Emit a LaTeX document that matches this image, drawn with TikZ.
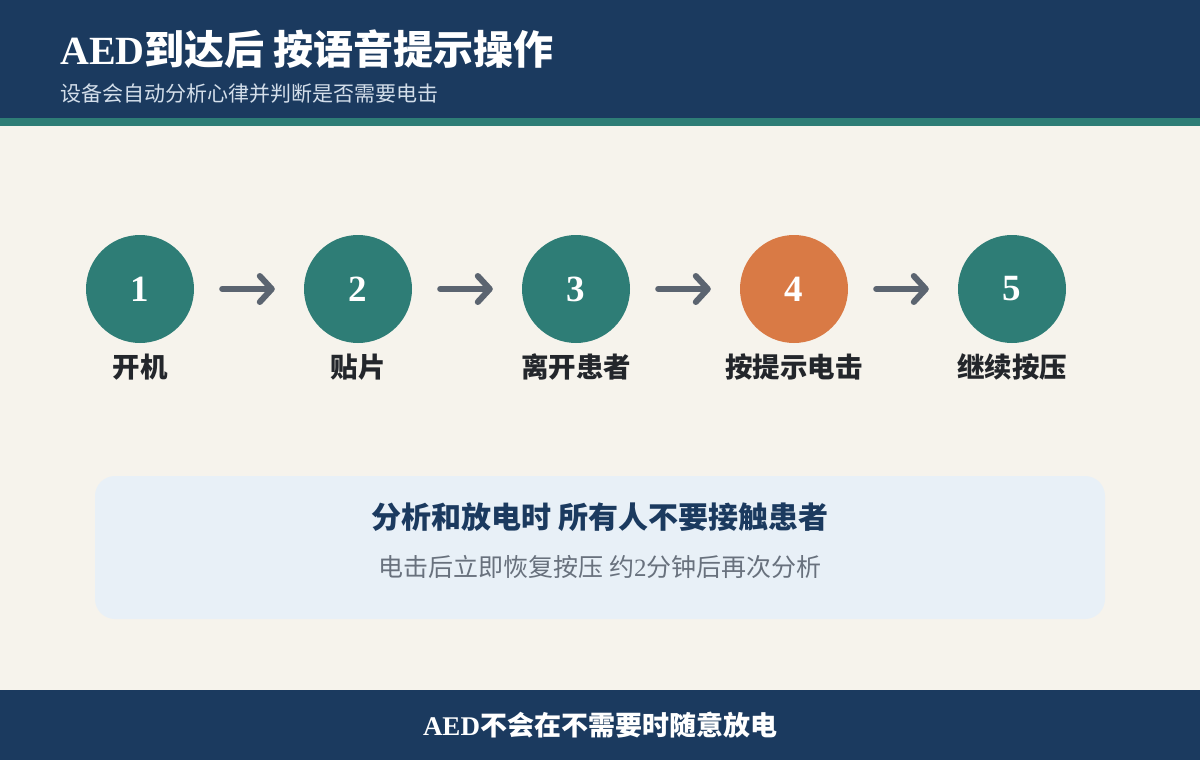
\documentclass[tikz,border=0pt]{standalone}
\usepackage{fontspec}
\setmainfont{Liberation Serif}
\newfontfamily\cjk{Noto Sans CJK SC}
\usetikzlibrary{arrows.meta}
\definecolor{navy}{HTML}{1B3A5F}
\definecolor{tealc}{HTML}{2E7D76}
\definecolor{bgc}{HTML}{F6F3EC}
\definecolor{orangec}{HTML}{D97A45}
\definecolor{arrowgray}{HTML}{5B6470}
\definecolor{labeldark}{HTML}{23262B}
\definecolor{boxfill}{HTML}{E8F0F7}
\definecolor{boxgray}{HTML}{68717D}
\definecolor{sublight}{HTML}{D3DEEA}
\begin{document}
\begin{tikzpicture}[x=1pt,y=-1pt,
  stepcirc/.style={circle,fill=tealc,minimum size=108pt,inner sep=0pt,text=white,
    font=\fontsize{37}{37}\selectfont\bfseries},
  steplabel/.style={text=labeldark,inner sep=0pt,font=\cjk\fontsize{27.5}{27.5}\selectfont\bfseries},
  flow/.style={draw=arrowgray,line width=6pt,line cap=round,
    -{Straight Barb[length=12pt,width=26pt,round]},shorten <=28pt,shorten >=29pt}]
\useasboundingbox (0,0) rectangle (1200,760);
\fill[bgc] (0,0) rectangle (1200,760);
\fill[navy] (0,0) rectangle (1200,118);
\fill[tealc] (0,118) rectangle (1200,126);
\fill[navy] (0,690) rectangle (1200,760);

\node[anchor=base west,text=white,inner sep=0pt] (title) at (60,65)
  {\fontsize{40}{40}\selectfont\bfseries AED{\cjk 到达后 按语音提示操作}};
\node[anchor=base west,text=sublight,inner sep=0pt] (subtitle) at (60,101)
  {\cjk\fontsize{21}{21}\selectfont 设备会自动分析心律并判断是否需要电击};

\node[stepcirc] (c1) at (140,289) {1};
\node[stepcirc] (c2) at (358,289) {2};
\node[stepcirc] (c3) at (576,289) {3};
\node[stepcirc,fill=orangec] (c4) at (794,289) {4};
\node[stepcirc] (c5) at (1012,289) {5};

\node[steplabel] (l1) at (140,367) {开机};
\node[steplabel] (l2) at (358,367) {贴片};
\node[steplabel] (l3) at (576,367) {离开患者};
\node[steplabel] (l4) at (794,367) {按提示电击};
\node[steplabel] (l5) at (1012,367) {继续按压};

\draw[flow] (c1) -- (c2);
\draw[flow] (c2) -- (c3);
\draw[flow] (c3) -- (c4);
\draw[flow] (c4) -- (c5);

\node[fill=boxfill,rounded corners=20pt,minimum width=1010pt,minimum height=143pt,inner sep=0pt] (panel) at (600,547.5) {};
\node[text=navy,inner sep=0pt] (paneltitle) at (600,517)
  {\cjk\fontsize{30}{30}\selectfont\bfseries 分析和放电时 所有人不要接触患者};
\node[text=boxgray,inner sep=0pt] (panelsub) at (600,567)
  {\cjk\fontsize{25}{25}\selectfont 电击后立即恢复按压 约{\rmfamily 2}分钟后再次分析};

\node[text=white,inner sep=0pt] (footer) at (600,725)
  {\fontsize{27}{27}\selectfont\bfseries AED{\cjk 不会在不需要时随意放电}};
\end{tikzpicture}
\end{document}
